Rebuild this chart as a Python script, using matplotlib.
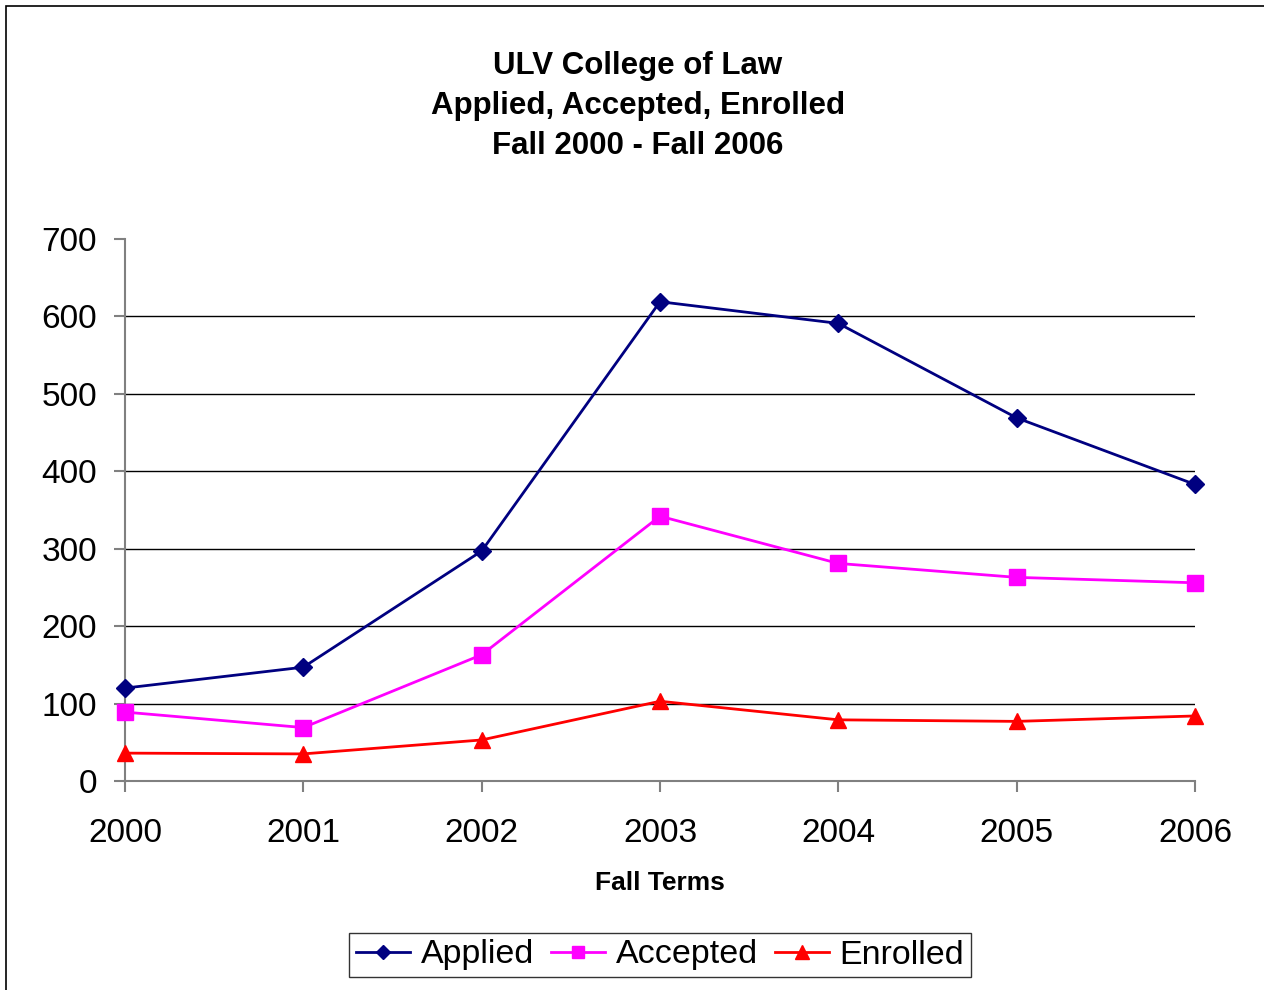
import matplotlib
matplotlib.use("Agg")
import matplotlib.pyplot as plt
from matplotlib.patches import Rectangle

plt.rcParams['font.family'] = ['Liberation Sans', 'DejaVu Sans']

years = [2000, 2001, 2002, 2003, 2004, 2005, 2006]
applied = [120, 147, 297, 619, 591, 469, 383]
accepted = [89, 69, 163, 342, 281, 263, 256]
enrolled = [36, 35, 53, 103, 79, 77, 84]

fig = plt.figure(figsize=(12.64, 9.9), dpi=100)
ax = fig.add_axes([125 / 1264, 1 - 781 / 990, 1070 / 1264, 542 / 990])

ax.plot(years, applied, color='#000080', marker='D', markersize=9, lw=2,
        label='Applied', clip_on=False, zorder=5)
ax.plot(years, accepted, color='#FF00FF', marker='s', markersize=11, lw=2,
        label='Accepted', clip_on=False, zorder=5)
ax.plot(years, enrolled, color='#FF0000', marker='^', markersize=12, lw=2,
        label='Enrolled', clip_on=False, zorder=5)

ax.set_xlim(2000, 2006)
ax.set_ylim(0, 700)
ax.set_xticks(years)
ax.set_yticks(range(0, 701, 100))
for v in range(100, 700, 100):
    ax.axhline(v, color='black', lw=1, zorder=1)

for s in ['top', 'right']:
    ax.spines[s].set_visible(False)
for s in ['left', 'bottom']:
    ax.spines[s].set_color('#808080')
    ax.spines[s].set_linewidth(1.5)
ax.tick_params(axis='both', direction='out', length=8, width=1.5,
               color='#808080', labelsize=24)
ax.tick_params(axis='x', pad=19)
ax.tick_params(axis='y', pad=12)

fig.text(638 / 1264, 1 - 106 / 990,
         "ULV College of Law\nApplied, Accepted, Enrolled\nFall 2000 - Fall 2006",
         ha='center', va='center', fontsize=22.5, fontweight='bold', linespacing=1.43)
fig.text(660 / 1264, 1 - 883 / 990, "Fall Terms", ha='center', va='center',
         fontsize=19, fontweight='bold')

leg = fig.legend(loc='center', bbox_to_anchor=(660 / 1264, 1 - 955 / 990), ncol=3,
                 fontsize=24.5, frameon=True, fancybox=False, edgecolor='black',
                 handlelength=1.6, handletextpad=0.3, columnspacing=0.5,
                 borderpad=0.2, markerscale=0.8)
leg.get_frame().set_linewidth(1.0)

fig.patches.append(Rectangle((6 / 1264, -0.01), 1.0, 1 - 6 / 990 + 0.01,
                             transform=fig.transFigure, fill=False,
                             edgecolor='black', lw=1.2))

fig.savefig("out.png", dpi=100)
